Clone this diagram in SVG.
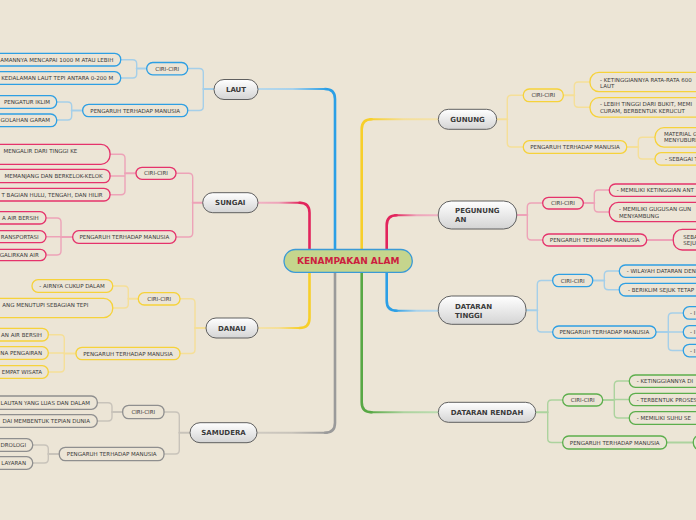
<svg xmlns="http://www.w3.org/2000/svg" width="696" height="520" viewBox="0 0 696 520">
<defs>
<linearGradient id="mg" x1="0" y1="0" x2="0" y2="1"><stop offset="0" stop-color="#ffffff"/><stop offset="1" stop-color="#d4d4d4"/></linearGradient>
<linearGradient id="hL" gradientUnits="userSpaceOnUse" x1="327" y1="0" x2="258" y2="0"><stop offset="0" stop-color="#2b9fe6"/><stop offset="0.5" stop-color="#a8d2ec"/><stop offset="1" stop-color="#b8d8ea"/></linearGradient>
<linearGradient id="hS" gradientUnits="userSpaceOnUse" x1="300" y1="0" x2="258" y2="0"><stop offset="0" stop-color="#e2245c"/><stop offset="0.5" stop-color="#eea3b9"/><stop offset="1" stop-color="#f0b3c4"/></linearGradient>
<linearGradient id="hD" gradientUnits="userSpaceOnUse" x1="300" y1="0" x2="258" y2="0"><stop offset="0" stop-color="#f7cf2a"/><stop offset="0.5" stop-color="#f5df98"/><stop offset="1" stop-color="#f3e2ac"/></linearGradient>
<linearGradient id="hSa" gradientUnits="userSpaceOnUse" x1="327" y1="0" x2="257" y2="0"><stop offset="0" stop-color="#9a9a9a"/><stop offset="0.5" stop-color="#c8c3ba"/><stop offset="1" stop-color="#cfcac1"/></linearGradient>
<linearGradient id="hG" gradientUnits="userSpaceOnUse" x1="370" y1="0" x2="438" y2="0"><stop offset="0" stop-color="#f7cf2a"/><stop offset="0.5" stop-color="#f5df98"/><stop offset="1" stop-color="#f3e2ac"/></linearGradient>
<linearGradient id="hP" gradientUnits="userSpaceOnUse" x1="395" y1="0" x2="438" y2="0"><stop offset="0" stop-color="#e2245c"/><stop offset="0.5" stop-color="#eea3b9"/><stop offset="1" stop-color="#f0b3c4"/></linearGradient>
<linearGradient id="hT" gradientUnits="userSpaceOnUse" x1="395" y1="0" x2="438" y2="0"><stop offset="0" stop-color="#2b9fe6"/><stop offset="0.5" stop-color="#a8d2ec"/><stop offset="1" stop-color="#b8d8ea"/></linearGradient>
<linearGradient id="hR" gradientUnits="userSpaceOnUse" x1="370" y1="0" x2="438" y2="0"><stop offset="0" stop-color="#58a845"/><stop offset="0.5" stop-color="#acd39e"/><stop offset="1" stop-color="#bcdcb0"/></linearGradient>
</defs>
<style>
text{font-family:"DejaVu Sans","Verdana",sans-serif;fill:#3a3a3a}
.mt{font-size:7px;font-weight:bold;fill:#3a3a3a}
.st{font-size:5.5px}
.mid{text-anchor:middle}
.end{text-anchor:end}
.mn{fill:url(#mg);stroke:#5f5f5f;stroke-width:1}
.sn{fill:#ece5d6;stroke-width:1.3}
.b{stroke:#2e9fe3}.p{stroke:#e5336b}.y{stroke:#f6d23a}.n{stroke:#8f8f8f}.g{stroke:#5cae4c}
path{fill:none;stroke-linecap:round}
.mv{stroke-width:2.6}
.mh{stroke-width:2}
.cb{stroke:#a5cfe9}.cp{stroke:#eda3b8}.cy{stroke:#f5df98}.cn{stroke:#c8c3ba}.cg{stroke:#acd39e}
.sub path{stroke-width:1.4}
.sub path.stub{stroke-width:2}
</style>
<rect x="0" y="0" width="696" height="520" fill="#ece5d6"/>

<g id="connectors">
<!-- main -->
<path class="mv" stroke="#2b9fe6" d="M335,252 V99 Q335,89 325,89"/><path class="mh" stroke="url(#hL)" d="M327,89 H258"/>
<path class="mv" stroke="#e2245c" d="M309.5,252 V212.7 Q309.5,202.7 299.5,202.7"/><path class="mh" stroke="url(#hS)" d="M301,202.7 H258"/>
<path class="mv" stroke="#f7cf2a" d="M309.5,270 V318 Q309.5,328 299.5,328"/><path class="mh" stroke="url(#hD)" d="M301,328 H258"/>
<path class="mv" stroke="#9a9a9a" d="M335,270 V422.7 Q335,432.7 325,432.7"/><path class="mh" stroke="url(#hSa)" d="M327,432.7 H257"/>
<path class="mv" stroke="#f7cf2a" d="M361.7,252 V129.3 Q361.7,119.3 371.7,119.3"/><path class="mh" stroke="url(#hG)" d="M370,119.3 H438"/>
<path class="mv" stroke="#e2245c" d="M386.7,252 V225.3 Q386.7,215.3 396.7,215.3"/><path class="mh" stroke="url(#hP)" d="M395,215.3 H438"/>
<path class="mv" stroke="#2b9fe6" d="M386.7,270 V300.7 Q386.7,310.7 396.7,310.7"/><path class="mh" stroke="url(#hT)" d="M395,310.7 H438"/>
<path class="mv" stroke="#58a845" d="M361.7,270 V402.3 Q361.7,412.3 371.7,412.3"/><path class="mh" stroke="url(#hR)" d="M370,412.3 H438"/>
<g class="sub">
<!-- LAUT -->
<path class="cb stub" d="M214,89 H203.3"/>
<path class="cb" d="M187.7,68.5 H199.3 Q203.3,68.5 203.3,72.5 V106.5 Q203.3,110.5 199.3,110.5 H187.7"/>
<path class="cb stub" d="M146.7,68.5 H136.7"/>
<path class="cb" d="M120.7,59.7 H132.7 Q136.7,59.7 136.7,63.7 V74 Q136.7,78 132.7,78 H120.7"/>
<path class="cb stub" d="M82.7,110.5 H71.7"/>
<path class="cb" d="M56.7,102 H67.7 Q71.7,102 71.7,106 V116 Q71.7,120 67.7,120 H56.7"/>
<!-- SUNGAI -->
<path class="cp stub" d="M202.7,202.7 H192.7"/>
<path class="cp" d="M176,173.3 H188.7 Q192.7,173.3 192.7,177.3 V233 Q192.7,237 188.7,237 H176"/>
<path class="cp stub" d="M136,173.3 H125"/>
<path class="cp" d="M110,154.3 H121 Q125,154.3 125,158.3 V190.7 Q125,194.7 121,194.7 H110 M110,176 H125"/>
<path class="cp stub" d="M72.7,237 H61"/>
<path class="cp" d="M46,218 H57 Q61,218 61,222 V251 Q61,255 57,255 H46 M46,236.7 H61"/>
<!-- DANAU -->
<path class="cy stub" d="M206,328 H195"/>
<path class="cy" d="M180,298.8 H191 Q195,298.8 195,302.8 V349.5 Q195,353.5 191,353.5 H180"/>
<path class="cy stub" d="M138.3,298.8 H128.3"/>
<path class="cy" d="M112.7,286 H124.3 Q128.3,286 128.3,290 V304 Q128.3,308 124.3,308 H112.7"/>
<path class="cy stub" d="M76,353.5 H64.3"/>
<path class="cy" d="M48.3,334.7 H60.3 Q64.3,334.7 64.3,338.7 V368 Q64.3,372 60.3,372 H48.3 M48.3,353 H64.3"/>
<!-- SAMUDERA -->
<path class="cn stub" d="M190,432.7 H179.3"/>
<path class="cn" d="M164,412 H175.3 Q179.3,412 179.3,416 V450 Q179.3,454 175.3,454 H164"/>
<path class="cn stub" d="M122.7,412 H112"/>
<path class="cn" d="M97.3,402.7 H108 Q112,402.7 112,406.7 V417 Q112,421 108,421 H97.3"/>
<path class="cn stub" d="M59.3,454 H48.3"/>
<path class="cn" d="M32.7,445 H44.3 Q48.3,445 48.3,449 V459 Q48.3,463 44.3,463 H32.7"/>
<!-- GUNUNG -->
<path class="cy stub" d="M496.7,119.3 H507.3"/>
<path class="cy" d="M523.3,95.3 H511.3 Q507.3,95.3 507.3,99.3 V143 Q507.3,147 511.3,147 H523.3"/>
<path class="cy stub" d="M563.3,95.3 H574.3"/>
<path class="cy" d="M590,82 H578.3 Q574.3,82 574.3,86 V103.3 Q574.3,107.3 578.3,107.3 H590"/>
<path class="cy stub" d="M626.7,147 H638.3"/>
<path class="cy" d="M655,137.3 H642.3 Q638.3,137.3 638.3,141.3 V155 Q638.3,159 642.3,159 H655"/>
<!-- PEGUNUNGAN -->
<path class="cp stub" d="M516.7,215 H527.3"/>
<path class="cp" d="M542.7,203 H531.3 Q527.3,203 527.3,207 V236 Q527.3,240 531.3,240 H542.7"/>
<path class="cp stub" d="M583.3,203 H594.3"/>
<path class="cp" d="M609.3,190 H598.3 Q594.3,190 594.3,194 V208 Q594.3,212 598.3,212 H609.3"/>
<path class="cp stub" d="M646.7,240 H673.3"/>
<!-- DATARAN TINGGI -->
<path class="cb stub" d="M526,310.3 H537.3"/>
<path class="cb" d="M552.7,280.5 H541.3 Q537.3,280.5 537.3,284.5 V328 Q537.3,332 541.3,332 H552.7"/>
<path class="cb stub" d="M592.7,280.5 H604.3"/>
<path class="cb" d="M619.3,271 H608.3 Q604.3,271 604.3,275 V285.7 Q604.3,289.7 608.3,289.7 H619.3"/>
<path class="cb stub" d="M656,332 H668.3"/>
<path class="cb" d="M683.3,313 H672.3 Q668.3,313 668.3,317 V346.5 Q668.3,350.5 672.3,350.5 H683.3 M668.3,332 H683.3"/>
<!-- DATARAN RENDAH -->
<path class="cg stub" d="M535.7,412.3 H547.7"/>
<path class="cg" d="M562.7,400 H551.7 Q547.7,400 547.7,404 V438.5 Q547.7,442.5 551.7,442.5 H562.7"/>
<path class="cg stub" d="M602.7,400 H614.3"/>
<path class="cg" d="M629.3,381 H618.3 Q614.3,381 614.3,385 V414 Q614.3,418 618.3,418 H629.3 M614.3,399.5 H629.3"/>
<path class="cg stub" d="M666.7,442.5 H693.3"/>
</g>
</g>

<g id="center">
<rect x="284" y="249.5" width="128.3" height="22.8" rx="11.4" fill="#c5d58d" stroke="#3b9ad6" stroke-width="1.3"/>
<text x="348.2" y="264.4" class="mid" style="font-size:9px;font-weight:bold;fill:#cc1f3f">KENAMPAKAN ALAM</text>
</g>

<!-- LAUT -->
<g id="laut"><rect class="mn" x="214" y="79.5" width="44" height="20" rx="10"/><text class="mt mid" x="236" y="92">LAUT</text></g>
<g id="laut-ciri"><rect class="sn b" x="146.7" y="62.5" width="41" height="12.3" rx="6"/><text class="st mid" x="167.2" y="70.5">CIRI-CIRI</text></g>
<g id="laut-pengaruh"><rect class="sn b" x="82.7" y="104.3" width="105" height="12.4" rx="6"/><text class="st mid" x="135.2" y="112.5">PENGARUH TERHADAP MANUSIA</text></g>
<g id="laut-c1"><rect class="sn b" x="-20" y="53.3" width="140.7" height="12.7" rx="6"/><text class="st end" x="113.3" y="61.7">AMANNYA MENCAPAI 1000 M ATAU LEBIH</text></g>
<g id="laut-c2"><rect class="sn b" x="-20" y="71.7" width="140.7" height="12.6" rx="6"/><text class="st end" x="113.3" y="80">KEDALAMAN LAUT TEPI ANTARA 0-200 M</text></g>
<g id="laut-p1"><rect class="sn b" x="-20" y="95.7" width="76.7" height="12.6" rx="6"/><text class="st end" x="50" y="104">PENGATUR IKLIM</text></g>
<g id="laut-p2"><rect class="sn b" x="-20" y="114" width="76.7" height="12.7" rx="6"/><text class="st end" x="50" y="122.3">GOLAHAN GARAM</text></g>

<!-- SUNGAI -->
<g id="sungai"><rect class="mn" x="202.7" y="192.7" width="55.3" height="20" rx="10"/><text class="mt mid" x="230.3" y="205.3">SUNGAI</text></g>
<g id="sungai-ciri"><rect class="sn p" x="136" y="167.3" width="40" height="12" rx="6"/><text class="st mid" x="156" y="175.3">CIRI-CIRI</text></g>
<g id="sungai-pengaruh"><rect class="sn p" x="72.7" y="230.7" width="103.3" height="12.6" rx="6"/><text class="st mid" x="124.3" y="239">PENGARUH TERHADAP MANUSIA</text></g>
<g id="sungai-c1"><rect class="sn p" x="-20" y="144.3" width="130" height="20" rx="9"/><text class="st end" x="77.3" y="152.7">MENGALIR DARI TINGGI KE</text></g>
<g id="sungai-c2"><rect class="sn p" x="-20" y="169.3" width="130" height="13.4" rx="6"/><text class="st end" x="102.7" y="178">MEMANJANG DAN BERKELOK-KELOK</text></g>
<g id="sungai-c3"><rect class="sn p" x="-20" y="188.3" width="130" height="12.7" rx="6"/><text class="st end" x="102.7" y="196.7">T BAGIAN HULU, TENGAH, DAN HILIR</text></g>
<g id="sungai-p1"><rect class="sn p" x="-20" y="211.7" width="66" height="12.3" rx="6"/><text class="st end" x="38.7" y="220">A AIR BERSIH</text></g>
<g id="sungai-p2"><rect class="sn p" x="-20" y="230.7" width="66" height="12" rx="6"/><text class="st end" x="38.7" y="238.7">RANSPORTASI</text></g>
<g id="sungai-p3"><rect class="sn p" x="-20" y="249.3" width="66" height="11.4" rx="5.7"/><text class="st end" x="38.7" y="257">GALIRKAN AIR</text></g>

<!-- DANAU -->
<g id="danau"><rect class="mn" x="206" y="318" width="52" height="20" rx="10"/><text class="mt mid" x="232" y="330.6">DANAU</text></g>
<g id="danau-ciri"><rect class="sn y" x="138.3" y="292.7" width="41.7" height="12.3" rx="6"/><text class="st mid" x="159.2" y="300.8">CIRI-CIRI</text></g>
<g id="danau-pengaruh"><rect class="sn y" x="76" y="347.3" width="104" height="12.4" rx="6"/><text class="st mid" x="128" y="355.5">PENGARUH TERHADAP MANUSIA</text></g>
<g id="danau-c1"><rect class="sn y" x="32" y="279.7" width="80.7" height="12.6" rx="6"/><text class="st" x="39.3" y="288">- AIRNYA CUKUP DALAM</text></g>
<g id="danau-c2"><rect class="sn y" x="-20" y="298.3" width="132.7" height="19.4" rx="9"/><text class="st end" x="88.3" y="307">ANG MENUTUPI SEBAGIAN TEPI</text></g>
<g id="danau-p1"><rect class="sn y" x="-20" y="328.3" width="68.3" height="12.7" rx="6"/><text class="st end" x="42" y="336.7">AN AIR BERSIH</text></g>
<g id="danau-p2"><rect class="sn y" x="-20" y="346.7" width="68.3" height="12.6" rx="6"/><text class="st end" x="42" y="355">NA PENGAIRAN</text></g>
<g id="danau-p3"><rect class="sn y" x="-20" y="365.7" width="68.3" height="12.6" rx="6"/><text class="st end" x="42" y="374">EMPAT WISATA</text></g>

<!-- SAMUDERA -->
<g id="samudera"><rect class="mn" x="190" y="422.7" width="67" height="20" rx="10"/><text class="mt mid" x="223.5" y="435.3">SAMUDERA</text></g>
<g id="samudera-ciri"><rect class="sn n" x="122.7" y="405.3" width="41.3" height="13.4" rx="6"/><text class="st mid" x="143.3" y="414">CIRI-CIRI</text></g>
<g id="samudera-pengaruh"><rect class="sn n" x="59.3" y="447.3" width="104.7" height="13.4" rx="6"/><text class="st mid" x="111.7" y="456">PENGARUH TERHADAP MANUSIA</text></g>
<g id="samudera-c1"><rect class="sn n" x="-20" y="396" width="117.3" height="13.3" rx="6"/><text class="st end" x="90" y="404.7">LAUTAN YANG LUAS DAN DALAM</text></g>
<g id="samudera-c2"><rect class="sn n" x="-20" y="414.7" width="117.3" height="12.6" rx="6"/><text class="st end" x="90" y="423">DAI MEMBENTUK TEPIAN DUNIA</text></g>
<g id="samudera-p1"><rect class="sn n" x="-20" y="438.7" width="52.7" height="12.6" rx="6"/><text class="st end" x="26" y="447">DROLOGI</text></g>
<g id="samudera-p2"><rect class="sn n" x="-20" y="456.7" width="52.7" height="12.6" rx="6"/><text class="st end" x="26" y="465">LAYARAN</text></g>

<!-- GUNUNG -->
<g id="gunung"><rect class="mn" x="438.3" y="109.3" width="58.4" height="20" rx="10"/><text class="mt mid" x="467.5" y="121.9">GUNUNG</text></g>
<g id="gunung-ciri"><rect class="sn y" x="523.3" y="89" width="40" height="12.7" rx="6"/><text class="st mid" x="543.3" y="97.3">CIRI-CIRI</text></g>
<g id="gunung-pengaruh"><rect class="sn y" x="523.3" y="140.7" width="103.4" height="12.6" rx="6"/><text class="st mid" x="575" y="149">PENGARUH TERHADAP MANUSIA</text></g>
<g id="gunung-c1"><rect class="sn y" x="590" y="72.3" width="130" height="19.4" rx="9"/><text class="st" x="600" y="82">- KETINGGIANNYA RATA-RATA 600</text><text class="st" x="600" y="88.3">LAUT</text></g>
<g id="gunung-c2"><rect class="sn y" x="590" y="97.7" width="130" height="19.4" rx="9"/><text class="st" x="600" y="106.3">- LEBIH TINGGI DARI BUKIT, MEMI</text><text class="st" x="600" y="112.6">CURAM, BERBENTUK KERUCUT</text></g>
<g id="gunung-p1"><rect class="sn y" x="655" y="127.7" width="60" height="19.4" rx="9"/><text class="st" x="664" y="136">MATERIAL G</text><text class="st" x="664" y="142.3">MENYUBURK</text></g>
<g id="gunung-p2"><rect class="sn y" x="655" y="152.7" width="60" height="12.4" rx="6"/><text class="st" x="665" y="161">- SEBAGAI T</text></g>

<!-- PEGUNUNGAN -->
<g id="pegunungan"><rect class="mn" x="438.3" y="201" width="78.4" height="28" rx="13"/><text class="mt" x="455" y="213.3">PEGUNUNG</text><text class="mt" x="455" y="221.6">AN</text></g>
<g id="pegunungan-ciri"><rect class="sn p" x="542.7" y="197.3" width="40.6" height="11.7" rx="5.8"/><text class="st mid" x="563" y="205.2">CIRI-CIRI</text></g>
<g id="pegunungan-pengaruh"><rect class="sn p" x="542.7" y="234" width="104" height="12" rx="6"/><text class="st mid" x="594.7" y="242">PENGARUH TERHADAP MANUSIA</text></g>
<g id="pegunungan-c1"><rect class="sn p" x="609.3" y="184" width="110" height="12.3" rx="6"/><text class="st" x="616.7" y="192.2">- MEMILIKI KETINGGIAN ANT</text></g>
<g id="pegunungan-c2"><rect class="sn p" x="609.3" y="202.3" width="110" height="19.4" rx="9"/><text class="st" x="619" y="210.7">- MEMILIKI GUGUSAN GUN</text><text class="st" x="619" y="217.8">MENYAMBUNG</text></g>
<g id="pegunungan-p1"><rect class="sn p" x="673.3" y="229.3" width="50" height="20.7" rx="9"/><text class="st" x="683.3" y="238.5">SEBA</text><text class="st" x="683.3" y="244.5">SEJU</text></g>

<!-- DATARAN TINGGI -->
<g id="dataran-tinggi"><rect class="mn" x="438.3" y="296" width="87.7" height="28.3" rx="13"/><text class="mt" x="455" y="308.5">DATARAN</text><text class="mt" x="455" y="317.5">TINGGI</text></g>
<g id="tinggi-ciri"><rect class="sn b" x="552.7" y="274.3" width="40" height="12.4" rx="6"/><text class="st mid" x="572.7" y="282.5">CIRI-CIRI</text></g>
<g id="tinggi-pengaruh"><rect class="sn b" x="552.7" y="326" width="103.3" height="12.3" rx="6"/><text class="st mid" x="604.3" y="334.2">PENGARUH TERHADAP MANUSIA</text></g>
<g id="tinggi-c1"><rect class="sn b" x="619.3" y="265" width="100" height="12.3" rx="6"/><text class="st" x="626.7" y="273.2">- WILAYAH DATARAN DEN</text></g>
<g id="tinggi-c2"><rect class="sn b" x="619.3" y="283.3" width="100" height="12.7" rx="6"/><text class="st" x="628" y="291.7">- BERIKLIM SEJUK TETAP</text></g>
<g id="tinggi-p1"><rect class="sn b" x="683.3" y="306.7" width="40" height="12.5" rx="6"/><text class="st" x="690" y="315">- I</text></g>
<g id="tinggi-p2"><rect class="sn b" x="683.3" y="325.7" width="40" height="12.5" rx="6"/><text class="st" x="690" y="334">- I</text></g>
<g id="tinggi-p3"><rect class="sn b" x="683.3" y="344.3" width="40" height="12.5" rx="6"/><text class="st" x="690" y="352.6">- I</text></g>

<!-- DATARAN RENDAH -->
<g id="dataran-rendah"><rect class="mn" x="438.3" y="402.3" width="97.4" height="20" rx="10"/><text class="mt mid" x="487" y="414.9">DATARAN RENDAH</text></g>
<g id="rendah-ciri"><rect class="sn g" x="562.7" y="394" width="40" height="12" rx="6"/><text class="st mid" x="582.7" y="402">CIRI-CIRI</text></g>
<g id="rendah-pengaruh"><rect class="sn g" x="562.7" y="436" width="104" height="13" rx="6"/><text class="st mid" x="614.7" y="444.5">PENGARUH TERHADAP MANUSIA</text></g>
<g id="rendah-c1"><rect class="sn g" x="629.3" y="375" width="90" height="12.3" rx="6"/><text class="st" x="636.7" y="383.2">- KETINGGIANNYA DI</text></g>
<g id="rendah-c2"><rect class="sn g" x="629.3" y="393.3" width="90" height="12.4" rx="6"/><text class="st" x="636.7" y="401.5">- TERBENTUK PROSES</text></g>
<g id="rendah-c3"><rect class="sn g" x="629.3" y="411.7" width="90" height="12.6" rx="6"/><text class="st" x="636.7" y="420">- MEMILIKI SUHU SE</text></g>
<g id="rendah-p1"><rect class="sn g" x="693.3" y="435" width="30" height="15" rx="7"/></g>
</svg>
